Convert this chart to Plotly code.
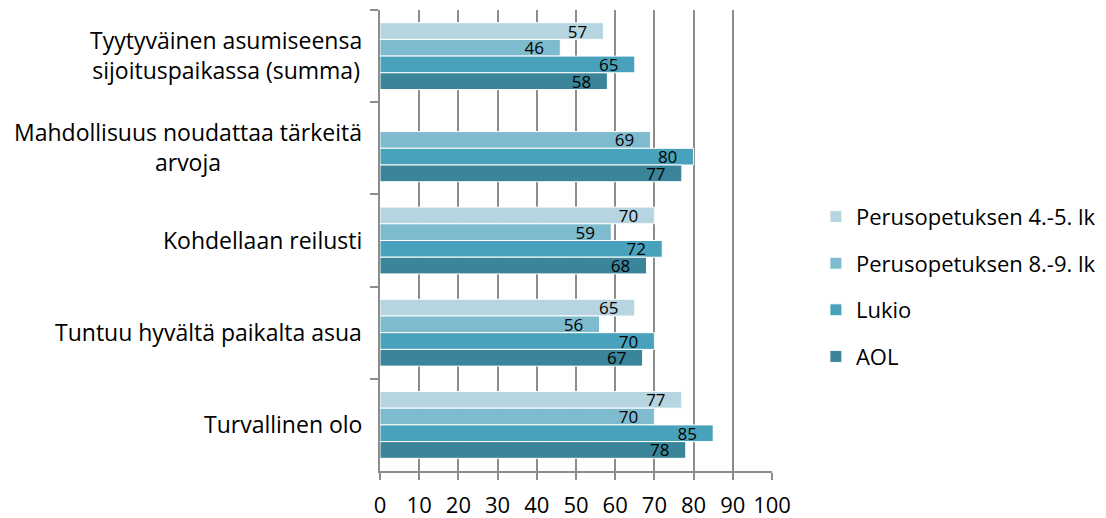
import plotly.graph_objects as go

categories = [
    "Tyytyväinen asumiseensa<br>sijoituspaikassa (summa)",
    "Mahdollisuus noudattaa tärkeitä<br>arvoja",
    "Kohdellaan reilusti",
    "Tuntuu hyvältä paikalta asua",
    "Turvallinen olo",
]
series_names = ["Perusopetuksen 4.-5. lk", "Perusopetuksen 8.-9. lk", "Lukio", "AOL"]
perus_4_5 = [57, None, 70, 65, 77]
perus_8_9 = [46, 69, 59, 56, 70]
lukio = [65, 80, 72, 70, 85]
aol = [58, 77, 68, 67, 78]
x_ticks = [0, 10, 20, 30, 40, 50, 60, 70, 80, 90, 100]

colors = ["#B7D5E0", "#7EBBCF", "#48A2BB", "#3A8599"]
FONT = "Open Sans"
cat_ids = [f"c{i}" for i in range(len(categories))]

fig = go.Figure()
for name, vals, col in zip(series_names, [perus_4_5, perus_8_9, lukio, aol], colors):
    fig.add_trace(go.Bar(
        y=cat_ids, x=vals, name=name, orientation="h",
        legendgroup=name,
        marker=dict(color=col, line=dict(color="white", width=1)),
        text=[(f"{v}\u00a0\u00a0\u00a0" if v is not None else "") for v in vals],
        textposition="inside", insidetextanchor="end",
        constraintext="none",
        textfont=dict(family=FONT, size=17, color="black"),
        hoverinfo="skip",
    ))

for cid, label in zip(cat_ids, categories):
    fig.add_annotation(
        x=0, xref="paper", y=cid, yref="y", text=label,
        xanchor="right", yanchor="middle", align="center",
        xshift=-16, yshift=1, showarrow=False,
        font=dict(family=FONT, size=23, color="black"),
    )

fig.update_layout(
    width=1106, height=518,
    margin=dict(l=380, r=334, t=10, b=47, autoexpand=False),
    paper_bgcolor="white", plot_bgcolor="white",
    barmode="group", bargap=0.275, bargroupgap=0,
    font=dict(family=FONT, size=22, color="black"),
    legend=dict(
        x=1.112, xanchor="left", y=0.597, yanchor="top",
        font=dict(family=FONT, size=22, color="black"),
        tracegroupgap=15, traceorder="grouped",
    ),
    showlegend=True,
)
fig.update_xaxes(
    range=[0, 100], tickvals=x_ticks, ticktext=[str(t) for t in x_ticks],
    showgrid=True, gridcolor="#8c8c8c", gridwidth=1.5,
    showline=True, linecolor="#8c8c8c", linewidth=1.5,
    ticks="outside", ticklen=7, tickcolor="#8c8c8c", tickwidth=1.5,
    tickfont=dict(family=FONT, size=22, color="black"),
    ticklabelstandoff=7,
    zeroline=False, fixedrange=True, automargin=False,
)
fig.update_yaxes(
    autorange="reversed", showticklabels=False,
    showline=True, linecolor="#8c8c8c", linewidth=1.5,
    ticks="outside", ticklen=8, tickcolor="#8c8c8c", tickwidth=1.5,
    tickson="boundaries", showgrid=False, fixedrange=True, automargin=False,
)

fig.write_html("out.html", config={"displayModeBar": False},
               post_script="document.body.style.margin='0';")
